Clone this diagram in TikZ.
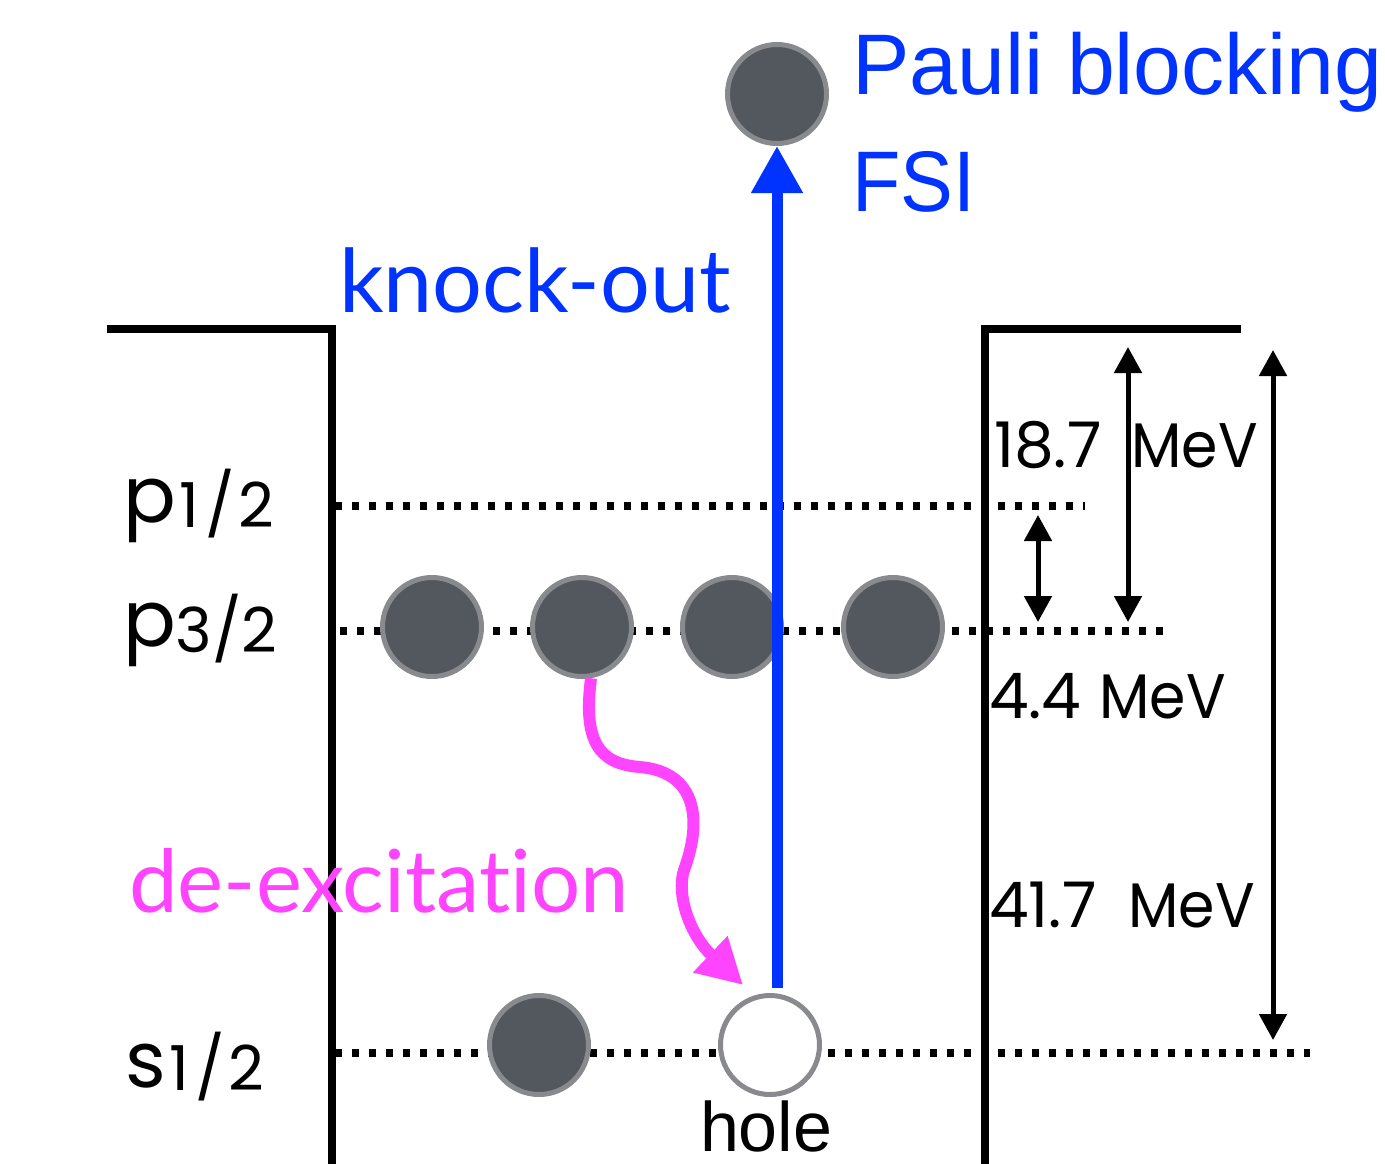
\documentclass[tikz,border=0pt]{standalone}
\usepackage{fontspec}
\setmainfont{Liberation Sans}
\newfontfamily\geo{Poppins}
\newfontfamily\lat[Ligatures=NoCommon]{Lato}
\usetikzlibrary{arrows.meta}
\definecolor{fermi}{HTML}{53575E}
\definecolor{rim}{HTML}{888A8E}
\definecolor{kblue}{HTML}{0033FF}
\definecolor{dpink}{HTML}{FF44FF}
\newcommand{\half}{\kern4pt 1\kern6pt/\kern3pt 2}
\newcommand{\mevtxt}{\scalebox{0.93}[1]{MeV}}
\begin{document}
\begin{tikzpicture}[x=1pt,y=-1pt,
  wall/.style={line width=7.5pt, line join=miter},
  level/.style={line width=8pt, dash pattern=on 7pt off 10pt},
  nucleon/.style={circle, minimum size=99pt, inner sep=0pt, fill=fermi, draw=rim, line width=5pt},
  holec/.style={circle, minimum size=99pt, inner sep=0pt, fill=white, draw=rim, line width=5pt},
  gaparrow/.style={line width=5pt, {Triangle[width=27pt,length=26pt]}-{Triangle[width=27pt,length=26pt]}},
  lbl/.style={anchor=base west, inner sep=0pt, outer sep=0pt},
  lvl/.style={lbl, font=\geo\fontsize{78}{78}\selectfont},
  mev/.style={lbl, font=\geo\fontsize{63}{63}\selectfont},
  bluetxt/.style={lbl, text=kblue, font=\fontsize{86}{86}\selectfont}
]
\useasboundingbox (0,0) rectangle (1385,1163);

% potential walls
\draw[wall] (107,329) -- (332,329) -- (332,1170);
\draw[wall] (985,1170) -- (985,329) -- (1241,329);

% levels
\draw[level] (335,506) -- (1085,506);
\draw[level] (340,631) -- (1165,631);
\draw[level] (335,1053) -- (1310,1053);

% level labels
\node[lvl] (lp1) at (123,522) {p\raisebox{-5pt}{\fontsize{62}{62}\selectfont\half}};
\node[lvl] (lp3) at (123,646) {p\raisebox{-6pt}{\fontsize{62}{62}\selectfont 3/2}};
\node[lvl] (ls1) at (125,1087) {s\raisebox{-3pt}{\fontsize{62}{62}\selectfont\half}};

% nucleons
\node[nucleon] (top) at (777,94) {};
\node[nucleon] (n1) at (432,627) {};
\node[nucleon] (n2) at (582,627) {};
\node[nucleon] (n3) at (732,627) {};
\node[nucleon] (n4) at (893,627) {};
\node[nucleon] (s1) at (539,1045) {};
\node[holec] (hole) at (770,1045) {};

% texts
\node[bluetxt] (pauli) at (852,94) {Pauli blocking};
\node[bluetxt] (fsi) at (852,211) {\scalebox{0.92}[1]{FSI}};
\node[lbl, text=kblue, font=\lat\fontsize{88}{88}\selectfont] (ko) at (339,312) {knock-out};
\node[lbl, text=dpink, font=\lat\fontsize{87}{87}\selectfont] (dex) at (129,912) {de-excitation};
\node[lbl, font=\fontsize{70}{70}\selectfont] (holetxt) at (700,1151) {hole};
\node[mev] (m187) at (994,467) {18.7\hspace{30pt}\mevtxt};
\node[mev] (m44) at (989,718) {4.4\hspace{18pt}\mevtxt};
\node[mev] (m417) at (989,927) {41.7\hspace{32pt}\mevtxt};

% knock-out arrow
\coordinate (kostart) at (777,988);
\draw[kblue, line width=11pt, -{Triangle[width=49pt,length=47pt]}] (kostart) -- (top.south);

% de-excitation arrow
\coordinate (dxend) at (743,985);
\draw[dpink, line width=12pt, -{Triangle[width=47pt,length=45pt]}]
  (n2.-80) .. controls (583,740) and (598,764) .. (640,767)
  .. controls (698,772) and (702,822) .. (684,870)
  .. controls (676,895) and (690,935) .. (dxend);

% energy gaps
\coordinate (g1a) at (1038,515);
\coordinate (g1b) at (1038,622);
\coordinate (g2a) at (1128,347);
\coordinate (g2b) at (1128,622);
\coordinate (g3a) at (1273,350);
\coordinate (g3b) at (1273,1040);
\draw[gaparrow] (g1a) -- (g1b);
\draw[gaparrow] (g2a) -- (g2b);
\draw[gaparrow] (g3a) -- (g3b);
\end{tikzpicture}
\end{document}
